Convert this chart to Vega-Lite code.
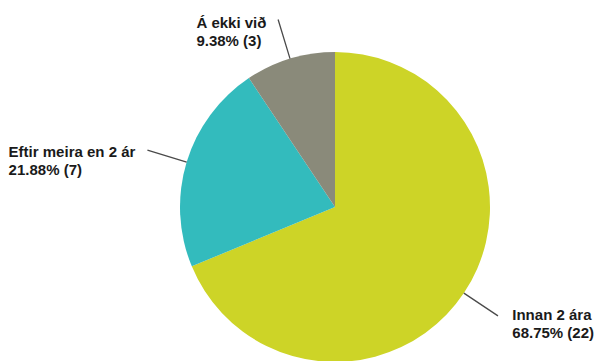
{
  "$schema": "https://vega.github.io/schema/vega-lite/v6.json",
  "autosize": {"type": "none"},
  "padding": {"left": 180, "top": 52, "right": 105, "bottom": 0},
  "width": 310,
  "height": 310,
  "background": "white",
  "config": {"view": {"stroke": null}},
  "data": {
    "values": [
      {"idx": 1, "category": "Innan 2 ára", "value": 22, "pct": "68.75% (22)"},
      {"idx": 2, "category": "Eftir meira en 2 ár", "value": 7, "pct": "21.88% (7)"},
      {"idx": 3, "category": "Á ekki við", "value": 3, "pct": "9.38% (3)"}
    ]
  },
  "transform": [
    {"window": [{"op": "sum", "field": "value", "as": "cum"}], "sort": [{"field": "idx"}], "frame": [null, 0]},
    {"calculate": "datum.cum - datum.value / 2", "as": "mid"},
    {"calculate": "[datum.category, datum.pct]", "as": "lbl"}
  ],
  "layer": [
    {
      "mark": {"type": "arc", "outerRadius": 155},
      "encoding": {
        "theta": {"field": "value", "type": "quantitative", "stack": true},
        "order": {"field": "idx", "type": "quantitative"},
        "color": {
          "field": "category",
          "type": "nominal",
          "scale": {
            "domain": ["Innan 2 ára", "Eftir meira en 2 ár", "Á ekki við"],
            "range": ["#cdd427", "#33bbbd", "#8a8a7a"]
          },
          "legend": null
        }
      }
    },
    {
      "mark": {"type": "arc", "innerRadius": 155, "outerRadius": 196, "stroke": "#4a4a4a", "strokeWidth": 1.3, "fill": null},
      "encoding": {
        "theta": {"field": "mid", "type": "quantitative", "scale": {"domain": [0, 32]}},
        "theta2": {"field": "mid"}
      }
    },
    {
      "transform": [{"filter": "datum.idx == 1"}],
      "mark": {"type": "text", "radius": 200, "dx": 11, "dy": 2, "align": "left", "baseline": "alphabetic", "font": "Liberation Sans", "fontWeight": "bold", "fontSize": 15, "lineHeight": 18, "color": "#1a1a1a"},
      "encoding": {
        "theta": {"field": "mid", "type": "quantitative", "scale": {"domain": [0, 32]}},
        "text": {"field": "lbl"}
      }
    },
    {
      "transform": [{"filter": "datum.idx == 2"}],
      "mark": {"type": "text", "radius": 200, "dx": -135, "dy": 8, "align": "left", "baseline": "alphabetic", "font": "Liberation Sans", "fontWeight": "bold", "fontSize": 15, "lineHeight": 18, "color": "#1a1a1a"},
      "encoding": {
        "theta": {"field": "mid", "type": "quantitative", "scale": {"domain": [0, 32]}},
        "text": {"field": "lbl"}
      }
    },
    {
      "transform": [{"filter": "datum.idx == 3"}],
      "mark": {"type": "text", "radius": 195, "dx": -82, "dy": 8, "align": "left", "baseline": "alphabetic", "font": "Liberation Sans", "fontWeight": "bold", "fontSize": 15, "lineHeight": 18, "color": "#1a1a1a"},
      "encoding": {
        "theta": {"field": "mid", "type": "quantitative", "scale": {"domain": [0, 32]}},
        "text": {"field": "lbl"}
      }
    }
  ]
}
